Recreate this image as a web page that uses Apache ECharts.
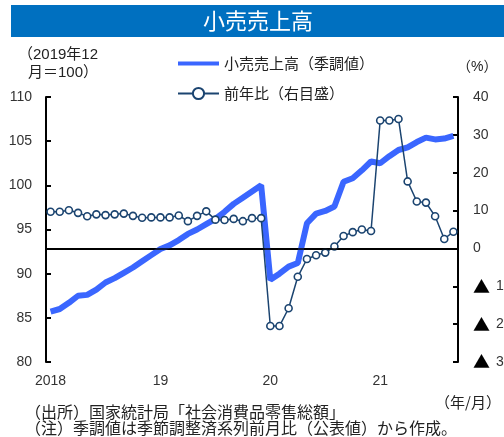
<!DOCTYPE html>
<html>
<head>
<meta charset="utf-8">
<script src="https://cdn.jsdelivr.net/npm/echarts@6/dist/echarts.min.js"></script>
<style>
html,body{margin:0;padding:0;background:#fff;}
#chart{width:504px;height:437px;}
</style>
</head>
<body>
<div id="chart"></div>
<script>
const categories = [
 '2018/01','2018/02','2018/03','2018/04','2018/05','2018/06','2018/07','2018/08','2018/09','2018/10','2018/11','2018/12',
 '2019/01','2019/02','2019/03','2019/04','2019/05','2019/06','2019/07','2019/08','2019/09','2019/10','2019/11','2019/12',
 '2020/01','2020/02','2020/03','2020/04','2020/05','2020/06','2020/07','2020/08','2020/09','2020/10','2020/11','2020/12',
 '2021/01','2021/02','2021/03','2021/04','2021/05','2021/06','2021/07','2021/08','2021/09'
];
const yearTickLabels = {'2018/01':'2018','2019/01':'19','2020/01':'20','2021/01':'21'};
const retailIndex = [
 85.7, 86.0, 86.7, 87.5, 87.6, 88.2, 89.0, 89.5, 90.1, 90.7, 91.4, 92.1,
 92.8, 93.2, 93.8, 94.5, 95.0, 95.6, 96.2, 97.0, 97.9, 98.6, 99.3, 100.0,
 89.3, 90.0, 90.8, 91.2, 95.7, 96.8, 97.1, 97.6, 100.4, 100.8, 101.7, 102.7,
 102.5, 103.3, 104.0, 104.3, 104.9, 105.4, 105.2, 105.3, 105.6
];
const yoyChange = [
 9.7, 9.7, 10.1, 9.4, 8.5, 9.0, 8.8, 9.0, 9.2, 8.6, 8.1, 8.2,
 8.2, 8.2, 8.7, 7.2, 8.6, 9.8, 7.6, 7.5, 7.8, 7.2, 8.0, 8.0,
 -20.5, -20.5, -15.8, -7.5, -2.8, -1.8, -1.1, 0.5, 3.3, 4.3, 5.0, 4.6,
 33.8, 33.8, 34.2, 17.7, 12.4, 12.1, 8.5, 2.5, 4.4
];
const seriesNames = ['小売売上高（季調値）', '前年比（右目盛）'];
const titleText = '小売売上高';
const leftUnit = ['（2019年12', '月＝100）'];
const rightUnit = '（%）';
const xUnit = '（年/月）';
const notes = ['（出所）国家統計局「社会消費品零售総額」', '（注）季調値は季節調整済系列前月比（公表値）から作成。'];

const latin = "'Liberation Sans', 'Noto Sans CJK JP', sans-serif";
const cjk = "'Noto Sans CJK JP', sans-serif";
const blue = '#3A66FF';
const navy = '#1B4470';

const chart = echarts.init(document.getElementById('chart'), null, {renderer: 'canvas'});
chart.setOption({
  animation: false,
  backgroundColor: '#fff',
  grid: {left: 46, right: 46, top: 97, bottom: 75, containLabel: false, outerBoundsMode: 'none'},
  legend: {
    orient: 'vertical', left: 172, top: 51, itemWidth: 41, itemHeight: 14, itemGap: 15,
    textStyle: {fontFamily: cjk, fontSize: 15, color: '#222', lineHeight: 14},
    data: [
      {name: seriesNames[0], icon: 'path://M0,0L10,0L10,1L0,1Z',
       itemStyle: {color: blue, borderWidth: 0}, lineStyle: {color: blue, width: 5, cap: 'round'}},
      {name: seriesNames[1]}
    ]
  },
  xAxis: {
    type: 'category', data: categories, boundaryGap: true,
    axisLine: {lineStyle: {color: '#000', width: 2}},
    axisTick: {inside: true, length: 5, lineStyle: {color: '#000', width: 2},
      interval: function (i, v) { return v in yearTickLabels; }},
    axisLabel: {interval: function (i, v) { return v in yearTickLabels; },
      formatter: function (v) { return yearTickLabels[v] || ''; },
      fontFamily: latin, fontSize: 14, color: '#333', margin: 12},
    splitLine: {show: false}
  },
  yAxis: [{
    type: 'value', min: 80, max: 110, interval: 5, position: 'left',
    axisLine: {show: true, lineStyle: {color: '#000', width: 2}},
    axisTick: {show: true, inside: true, length: 5, lineStyle: {color: '#000', width: 2}},
    axisLabel: {fontFamily: latin, fontSize: 14, color: '#333', margin: 14},
    splitLine: {show: false}
  }, {
    type: 'value', min: -30, max: 40, interval: 10, position: 'right',
    axisLine: {show: true, lineStyle: {color: '#000', width: 2}},
    axisTick: {show: true, inside: true, length: 5, lineStyle: {color: '#000', width: 2}},
    axisLabel: {fontFamily: latin, fontSize: 14, color: '#333', margin: 15,
      formatter: function (v) { return v < 0 ? '{t|▲}' + (-v) : String(v); },
      rich: {t: {fontFamily: cjk, fontSize: 17, color: '#000', padding: [0, 6, 0, 0]}}},
    splitLine: {show: false}
  }],
  series: [{
    name: seriesNames[0], type: 'line', yAxisIndex: 0, data: retailIndex,
    symbol: 'none', lineStyle: {color: blue, width: 6}, itemStyle: {color: blue}, z: 2
  }, {
    name: seriesNames[1], type: 'line', yAxisIndex: 1, data: yoyChange,
    symbol: 'circle', symbolSize: 7, showSymbol: true, showAllSymbol: true,
    lineStyle: {color: navy, width: 1.5},
    itemStyle: {color: '#fff', borderColor: navy, borderWidth: 1.6}, z: 4,
    markLine: {silent: true, symbol: 'none', label: {show: false},
      lineStyle: {color: '#000', width: 1.5, type: 'solid'}, data: [{yAxis: 0}]}
  }],
  graphic: [
    {type: 'rect', left: 11, top: 5, shape: {width: 493, height: 32}, style: {fill: '#0070C0'}},
    {type: 'text', x: 258, y: 21, style: {text: titleText, fill: '#fff', font: "22px " + cjk, textAlign: 'center', textVerticalAlign: 'middle'}},
    {type: 'text', x: 98, y: 55, style: {text: leftUnit[0], fill: '#222', font: "15px " + latin, textAlign: 'right', textVerticalAlign: 'middle'}},
    {type: 'text', x: 98, y: 73, style: {text: leftUnit[1], fill: '#222', font: "15px " + latin, textAlign: 'right', textVerticalAlign: 'middle'}},
    {type: 'text', x: 457, y: 67, style: {text: rightUnit, fill: '#222', font: "14px " + latin, textAlign: 'left', textVerticalAlign: 'middle'}},
    {type: 'text', x: 435, y: 402, style: {text: xUnit, fill: '#222', font: "15px " + cjk, textAlign: 'left', textVerticalAlign: 'middle'}},
    {type: 'text', x: 25, y: 412, style: {text: notes[0], fill: '#222', font: "16px " + cjk, textAlign: 'left', textVerticalAlign: 'middle'}},
    {type: 'text', x: 25, y: 428, style: {text: notes[1], fill: '#222', font: "16px " + cjk, textAlign: 'left', textVerticalAlign: 'middle'}}
  ]
});
</script>
</body>
</html>
